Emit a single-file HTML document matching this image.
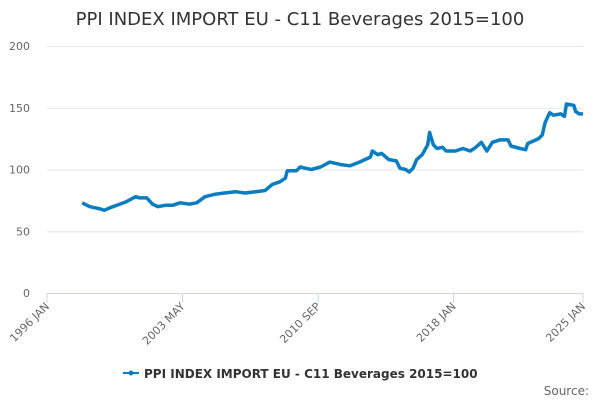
<!DOCTYPE html>
<html><head><meta charset="utf-8"><style>
body{margin:0;background:#fff;font-family:"DejaVu Sans",sans-serif}
svg text{font-family:"DejaVu Sans",sans-serif}
</style></head><body>
<svg id="c" width="600" height="400">
<text x="300" y="25" text-anchor="middle" font-size="18" fill="#333">PPI INDEX IMPORT EU - C11 Beverages 2015=100</text>
<g id="grid"></g><g id="xax"></g><g id="plot"></g>
<g>
<line x1="123" y1="373" x2="139" y2="373" stroke="#0a7dc2" stroke-width="2"/>
<circle cx="131" cy="373" r="2.5" fill="#0a7dc2"/>
<text x="144" y="378" font-size="12" font-weight="bold" fill="#333">PPI INDEX IMPORT EU - C11 Beverages 2015=100</text>
</g>
<text x="589" y="395" text-anchor="end" font-size="12" fill="#666">Source:</text>
</svg>
<script>
const yTicks=[0,50,100,150,200];
const xTickYears=[1996,2003.33,2010.67,2018,2025];
const xTickLabels=["1996 JAN","2003 MAY","2010 SEP","2018 JAN","2025 JAN"];
const years=[1997.9,1998.3,1998.9,1999.1,1999.4,1999.95,2000.3,2000.8,2001.0,2001.4,2001.7,2002.0,2002.4,2002.8,2003.2,2003.7,2004.1,2004.55,2005.1,2005.6,2006.2,2006.7,2007.3,2007.8,2008.2,2008.6,2008.9,2009.0,2009.5,2009.7,2010.0,2010.3,2010.8,2011.3,2011.9,2012.4,2012.9,2013.5,2013.6,2013.9,2014.1,2014.5,2014.9,2015.1,2015.4,2015.6,2015.8,2016.0,2016.3,2016.6,2016.7,2016.9,2017.1,2017.4,2017.6,2018.1,2018.5,2018.9,2019.2,2019.5,2019.8,2020.1,2020.5,2020.95,2021.1,2021.6,2021.9,2022.0,2022.3,2022.6,2022.8,2022.95,2023.2,2023.4,2023.8,2024.0,2024.1,2024.5,2024.6,2024.8,2025.0];
const values=[73,70,68,67,69,72,74,78,77,77,72,70,71,71,73,72,73,78,80,81,82,81,82,83,88,90,93,99,99,102,101,100,102,106,104,103,106,110,115,112,113,108,107,101,100,98,101,108,112,120,130,120,117,118,115,115,117,115,118,122,115,122,124,124,119,117,116,121,123,125,128,138,146,144,145,143,153,152,147,145,145];
const X0=47,X1=583,Y0=293,Y1=46;
const xs=y=>X0+(y-1996)/(2025-1996)*(X1-X0);
const ys=v=>Y0-v/200*(Y0-Y1);
const NS="http://www.w3.org/2000/svg";
const g=document.getElementById('grid'),xa=document.getElementById('xax'),p=document.getElementById('plot');
yTicks.forEach(t=>{
 const l=document.createElementNS(NS,'line');
 l.setAttribute('x1',X0);l.setAttribute('x2',X1);l.setAttribute('y1',ys(t)+0.5);l.setAttribute('y2',ys(t)+0.5);
 l.setAttribute('stroke',t===0?'#ccd6eb':'#e6e6e6');
 
 
 g.appendChild(l);
 const tx=document.createElementNS(NS,'text');
 tx.setAttribute('x',30);tx.setAttribute('y',ys(t)+4);tx.setAttribute('text-anchor','end');
 tx.setAttribute('font-size','11');tx.setAttribute('fill','#666');tx.textContent=t;
 
 
 g.appendChild(tx);
});
xTickYears.forEach((yr,i)=>{
 const x=xs(yr);
 const l=document.createElementNS(NS,'line');
 l.setAttribute('x1',x);l.setAttribute('x2',x);l.setAttribute('y1',Y0);l.setAttribute('y2',Y0+10);l.setAttribute('stroke','#ccd6eb');
 
 
 xa.appendChild(l);
 const tx=document.createElementNS(NS,'text');
 tx.setAttribute('x',x+3);tx.setAttribute('y',Y0+14);tx.setAttribute('text-anchor','end');
 tx.setAttribute('font-size','11');tx.setAttribute('fill','#666');
 tx.setAttribute('transform','rotate(-45 '+(x+3)+' '+(Y0+14)+')');
 tx.textContent=xTickLabels[i];
 
 
 xa.appendChild(tx);
});
const path=document.createElementNS(NS,'path');
path.setAttribute('d',years.map((y,i)=>(i?'L':'M')+xs(y).toFixed(1)+' '+ys(values[i]).toFixed(1)).join(' '));
path.setAttribute('fill','none');path.setAttribute('stroke','#0a7dc2');path.setAttribute('stroke-width','3.5');path.setAttribute('stroke-linejoin','round');


p.appendChild(path);
</script>
</body></html>
